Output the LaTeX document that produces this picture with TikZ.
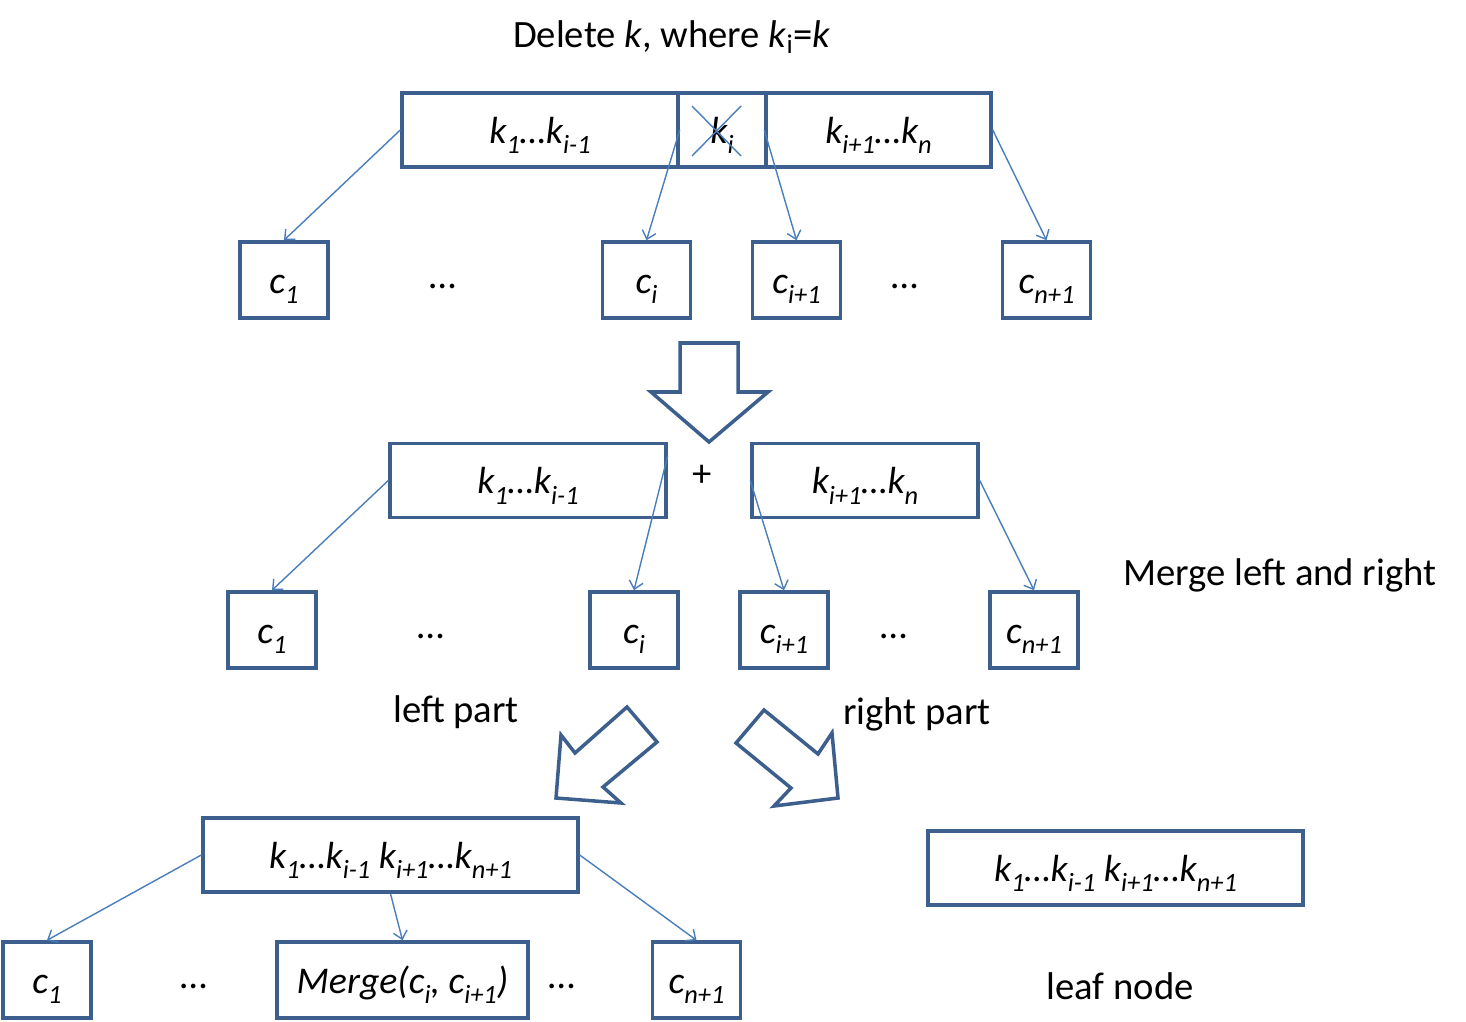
\documentclass[tikz,border=0pt]{standalone}
\usepackage{fontspec}
\setmainfont{Carlito}
\usetikzlibrary{arrows.meta}
\definecolor{boxblue}{HTML}{3C5F8E}
\definecolor{linkblue}{HTML}{4A7EBB}
\newcommand{\lowsub}[1]{\raisebox{-0.28em}{\fontsize{15}{15}\selectfont #1}}

\begin{document}
\begin{tikzpicture}[x=0.02cm,y=-0.02cm,
  keybox/.style={draw=boxblue,line width=2pt,minimum height=1.48cm,inner sep=0pt,
    text height=15pt,text depth=0pt,font=\fontsize{21.5}{26}\selectfont\itshape},
  childbox/.style={keybox,minimum width=1.76cm,minimum height=1.52cm},
  link/.style={draw=linkblue,line width=0.8pt,-{Straight Barb[length=4.5pt,width=8pt]}},
  hollow/.style={draw=boxblue,line width=2pt,line join=miter},
  lbl/.style={inner sep=0pt,font=\fontsize{22}{26}\selectfont},
  dots/.style={lbl,anchor=base}]
  \useasboundingbox (0,0) rectangle (1466,1021);

  % Title
  \node[lbl] (title) at (672,37) {Delete \textit{k}, where \textit{k}\textsubscript{i}=\textit{k}};

  % Original node
  \node[keybox,minimum width=5.52cm] (tl) at (540,130) {k\lowsub{1}…k\lowsub{i-1}};
  \node[keybox,minimum width=1.76cm] (tk) at (722,130) {k\lowsub{i}};
  \node[keybox,minimum width=4.5cm] (tr) at (878.5,130) {k\lowsub{i+1}…k\lowsub{n}};
  \draw[linkblue,line width=0.8pt] (692,106) -- (741,156) (692,156) -- (741,106);

  \node[childbox] (ta) at (284,280) {c\lowsub{1}};
  \node[childbox] (tb) at (646.5,280) {c\lowsub{i}};
  \node[childbox] (tc) at (796.5,280) {c\lowsub{i+1}};
  \node[childbox] (td) at (1046.5,280) {c\lowsub{n+1}};
  \node[dots] (tdots1) at (443,288) {…};
  \node[dots] (tdots2) at (905,288) {…};

  \draw[link] (tl.west) -- (ta.north);
  \draw[link] (tl.east) -- (tb.north);
  \draw[link] (tr.west) -- (tc.north);
  \draw[link] (tr.east) -- (td.north);

  % Down arrow
  \draw[hollow] (680,343) -- (738,343) -- (738,392) -- (768,392) -- (709,442)
    -- (651,392) -- (680,392) -- cycle;

  % Split node
  \node[keybox,minimum width=5.52cm] (ml) at (528,480.5) {k\lowsub{1}…k\lowsub{i-1}};
  \node[keybox,minimum width=4.52cm] (mr) at (865,480.5) {k\lowsub{i+1}…k\lowsub{n}};
  \node[lbl] (plus) at (702,476) {+};

  \node[childbox] (ma) at (272,630) {c\lowsub{1}};
  \node[childbox] (mb) at (634,630) {c\lowsub{i}};
  \node[childbox] (mc) at (784,630) {c\lowsub{i+1}};
  \node[childbox] (md) at (1034,630) {c\lowsub{n+1}};
  \node[dots] (mdots1) at (431,638) {…};
  \node[dots] (mdots2) at (894,638) {…};

  \draw[link] (ml.west) -- (ma.north);
  \draw[link] ([yshift=0.5cm]ml.east) -- (mb.north);
  \draw[link] (mr.west) -- (mc.north);
  \draw[link] (mr.east) -- (md.north);

  \node[lbl] (merge) at (1280,575) {Merge left and right};
  \node[lbl] (left) at (456,712) {left part};
  \node[lbl] (right) at (917,714) {right part};

  % Diagonal arrows
  \draw[hollow] (627,707) -- (657,742) -- (603,787) -- (621,803) -- (556,798)
    -- (561,735) -- (575,753) -- cycle;
  \draw[hollow] (764,710) -- (736,743) -- (791,788) -- (774,806) -- (838,798)
    -- (832,733) -- (818,754) -- cycle;

  % Merged node
  \node[keybox,minimum width=7.5cm] (bm) at (390.5,855)
    {k\lowsub{1}…k\lowsub{i-1} k\lowsub{i+1}…k\lowsub{n+1}};
  \node[childbox] (ba) at (47,980) {c\lowsub{1}};
  \node[childbox,minimum width=5.02cm] (bb) at (402.5,980) {Merge(c\lowsub{i}, c\lowsub{i+1})};
  \node[childbox] (bc) at (696.5,980) {c\lowsub{n+1}};
  \node[dots] (bdots1) at (194,988) {…};
  \node[dots] (bdots2) at (562,988) {…};

  \draw[link] (bm.west) -- (ba.north);
  \draw[link] (bm.south) -- (bb.north);
  \draw[link] (bm.east) -- (bc.north);

  % Leaf node
  \node[keybox,minimum width=7.5cm] (leaf) at (1115.5,868)
    {k\lowsub{1}…k\lowsub{i-1} k\lowsub{i+1}…k\lowsub{n+1}};
  \node[lbl] (leaflbl) at (1120,986) {leaf node};
\end{tikzpicture}
\end{document}
